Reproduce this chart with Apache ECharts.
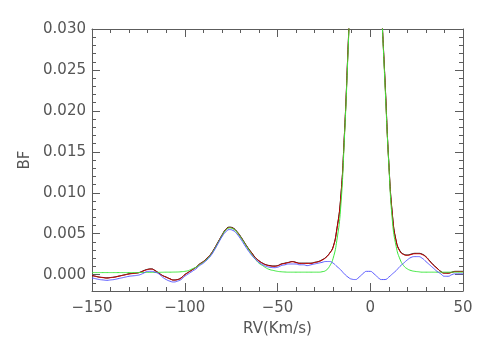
<!DOCTYPE html>
<html>
<head>
<meta charset="utf-8">
<script src="https://cdn.jsdelivr.net/npm/echarts@6.0.0/dist/echarts.min.js"></script>
<style>
  html, body { margin: 0; padding: 0; background: #fff; }
  #chart { width: 491px; height: 350px; }
</style>
</head>
<body>
<div id="chart"></div>
<script>
// radial velocity grid, km/s
const rv = [
  -150, -148, -146, -144, -142, -140, -138, -136, -134, -132,
  -130, -128, -126, -124, -122, -120, -118, -116, -114, -112,
  -110, -108, -106, -104, -102, -100, -98, -96, -94, -92,
  -90, -88, -86, -84, -82, -80, -78, -76, -74, -72,
  -70, -68, -66, -64, -62, -60, -58, -56, -54, -52,
  -50, -48, -46, -44, -42, -40, -38, -36, -34, -32,
  -30, -28, -26, -24, -22, -20, -18, -16, -14, -12,
  -10, -8, -6, -4, -2, 0, 2, 4, 6, 8,
  10, 12, 14, 16, 18, 20, 22, 24, 26, 28,
  30, 32, 34, 36, 38, 40, 42, 44, 46, 48,
  50
];

// broadening function (black)
const bfBlack = [
  -0.0001, -0.0002, -0.0003, -0.00035, -0.0004, -0.00035, -0.0003, -0.0002, -0.0001, 0,
  0.0001, 0.00015, 0.0002, 0.0003, 0.0005, 0.00065, 0.0007, 0.0005, 0.0002, -0.0001,
  -0.0003, -0.0005, -0.00065, -0.0006, -0.0004, 0, 0.0003, 0.0006, 0.0009, 0.0013,
  0.0016, 0.0020, 0.0025, 0.0032, 0.0040, 0.0048, 0.0055, 0.0058, 0.0057, 0.0053,
  0.0047, 0.0040, 0.0033, 0.0027, 0.0021, 0.0017, 0.0014, 0.0012, 0.0011, 0.00105,
  0.0011, 0.0013, 0.0014, 0.0015, 0.0016, 0.0015, 0.0014, 0.0014, 0.0014, 0.0014,
  0.0015, 0.0016, 0.0018, 0.0021, 0.0026, 0.0034, 0.0056, 0.0092, 0.0168, 0.0275,
  0.039, 0.052, 0.063, 0.069, 0.070, 0.066, 0.057, 0.044, 0.033, 0.0235,
  0.0137, 0.0072, 0.0041, 0.0029, 0.0025, 0.0024, 0.0025, 0.0026, 0.0026, 0.0025,
  0.0022, 0.0017, 0.0012, 0.0008, 0.0004, 0.0002, 0.0002, 0.0003, 0.0004, 0.0004,
  0.0004
];

// fit (red)
const bfRed = [
  -0.00012, -0.00022, -0.00032, -0.00037, -0.00042, -0.00037, -0.00032, -0.00022, -0.00012, -0.00002,
  0.00008, 0.00013, 0.00018, 0.00028, 0.00047, 0.00062, 0.00067, 0.00048, 0.00018, -0.00012,
  -0.00032, -0.00052, -0.00067, -0.00062, -0.00042, -0.00002, 0.00028, 0.00058, 0.00088, 0.00127,
  0.00157, 0.00197, 0.00247, 0.00317, 0.00397, 0.00475, 0.00545, 0.00575, 0.00565, 0.00525,
  0.00465, 0.00395, 0.00325, 0.00265, 0.00207, 0.00167, 0.00137, 0.00117, 0.00107, 0.00102,
  0.00107, 0.00127, 0.00137, 0.00147, 0.00157, 0.00147, 0.00137, 0.00137, 0.00137, 0.00137,
  0.00147, 0.00157, 0.00177, 0.00207, 0.00257, 0.00335, 0.0055, 0.0091, 0.0167, 0.0274,
  0.039, 0.052, 0.063, 0.069, 0.070, 0.066, 0.057, 0.044, 0.033, 0.0234,
  0.0136, 0.0071, 0.0040, 0.00285, 0.00245, 0.00235, 0.00245, 0.00255, 0.00255, 0.00245,
  0.00215, 0.00165, 0.00117, 0.00077, 0.00037, 0.00017, 0.00017, 0.00027, 0.00037, 0.00037,
  0.00037
];

// primary component (green)
const bfGreen = [
  0.00025, 0.00025, 0.00025, 0.00025, 0.00025, 0.00025, 0.00025, 0.00025, 0.00025, 0.00025,
  0.00025, 0.00025, 0.00025, 0.00026, 0.00026, 0.00027, 0.00027, 0.00028, 0.00028, 0.00029,
  0.0003, 0.0003, 0.00031, 0.00032, 0.00035, 0.0004, 0.0005, 0.0007, 0.0009, 0.0012,
  0.0015, 0.0019, 0.0024, 0.0031, 0.0039, 0.0047, 0.0054, 0.0057, 0.0056, 0.0052,
  0.0046, 0.0039, 0.0032, 0.0025, 0.0019, 0.0014, 0.0011, 0.0008, 0.0006, 0.0005,
  0.0004, 0.00035, 0.00032, 0.0003, 0.0003, 0.0003, 0.0003, 0.0003, 0.0003, 0.0003,
  0.0003, 0.0003, 0.00035, 0.0005, 0.001, 0.002, 0.0042, 0.0080, 0.0163, 0.027,
  0.039, 0.052, 0.063, 0.069, 0.070, 0.066, 0.057, 0.044, 0.033, 0.023,
  0.0135, 0.0064, 0.0034, 0.0019, 0.0011, 0.0007, 0.0005, 0.0004, 0.00035, 0.0003,
  0.0003, 0.0003, 0.0003, 0.0003, 0.0003, 0.0003, 0.0003, 0.0003, 0.0003, 0.0003,
  0.0003
];

// residual / secondary (blue)
const bfBlue = [
  -0.0004, -0.0005, -0.0006, -0.00065, -0.0007, -0.00065, -0.0006, -0.0005, -0.0004, -0.0003,
  -0.0002, -0.00015, -0.0001, 0, 0.0002, 0.0004, 0.0004, 0.0003, 0.0001, -0.0003,
  -0.0006, -0.0008, -0.0009, -0.0008, -0.0006, -0.0002, 0.0001, 0.0004, 0.0007, 0.0011,
  0.0014, 0.0018, 0.0023, 0.0030, 0.0038, 0.0046, 0.0052, 0.0055, 0.0054, 0.0050,
  0.0044, 0.0037, 0.0030, 0.0024, 0.0019, 0.0015, 0.0012, 0.0010, 0.0009, 0.00085,
  0.0009, 0.0011, 0.0012, 0.0013, 0.0013, 0.0013, 0.0012, 0.0012, 0.0011, 0.0012,
  0.0013, 0.0014, 0.0015, 0.0016, 0.0016, 0.0014, 0.0010, 0.0006, 0.0001, -0.0003,
  -0.00055, -0.0006, -0.0003, 0.0001, 0.0004, 0.0004, 0.0001, -0.0003, -0.0006, -0.0006,
  -0.0003, 0.0001, 0.0005, 0.0010, 0.0014, 0.0018, 0.0021, 0.0022, 0.0022, 0.0020,
  0.0016, 0.0012, 0.0008, 0.0004, 0.0001, -0.0002, -0.0002, 0, 0.0001, 0.0001,
  0.0001
];

const yMajor = [0, 0.005, 0.010, 0.015, 0.020, 0.025, 0.030];
const yMinor = [-0.002, -0.001, 0.001, 0.002, 0.003, 0.004, 0.006, 0.007, 0.008, 0.009,
  0.011, 0.012, 0.013, 0.014, 0.016, 0.017, 0.018, 0.019, 0.021, 0.022, 0.023, 0.024,
  0.026, 0.027, 0.028, 0.029];

const frameColor = '#5c5c5c';
const textColor = '#555555';
const font = 'DejaVu Sans';

const chart = echarts.init(document.getElementById('chart'));

const pairs = (ys) => rv.map((x, i) => [x, ys[i]]);

const xAxisBase = (pos) => ({
  type: 'value',
  position: pos,
  min: -150,
  max: 50,
  interval: 50,
  axisLine: { show: true, onZero: false, lineStyle: { color: frameColor, width: 1 } },
  axisTick: { show: true, inside: true, length: 8, lineStyle: { color: frameColor } },
  minorTick: { show: true, splitNumber: 5, length: 4, lineStyle: { color: frameColor } },
  splitLine: { show: false },
  minorSplitLine: { show: false }
});

const yAxisBase = (pos, ticks, len, line) => ({
  type: 'value',
  position: pos,
  min: -0.002,
  max: 0.030,
  axisLine: { show: line, onZero: false, lineStyle: { color: frameColor, width: 1 } },
  axisTick: { show: true, inside: true, length: len, customValues: ticks, lineStyle: { color: frameColor } },
  axisLabel: { show: false },
  splitLine: { show: false }
});

const lineSeries = (name, ys, color) => ({
  name: name,
  type: 'line',
  data: pairs(ys),
  showSymbol: false,
  smooth: 0.5,
  clip: true,
  lineStyle: { color: color, width: 1 },
  itemStyle: { color: color }
});

const option = {
  animation: false,
  backgroundColor: '#ffffff',
  grid: { left: 92, right: 28, top: 29, bottom: 59 },
  xAxis: [
    Object.assign(xAxisBase('bottom'), {
      axisLabel: {
        margin: 10,
        color: textColor,
        fontFamily: font,
        fontSize: 15,
        formatter: (v) => String(v).replace('-', '\u2212')
      },
      name: 'RV(Km/s)',
      nameLocation: 'middle',
      nameGap: 31,
      nameTextStyle: { color: textColor, fontFamily: font, fontSize: 15 }
    }),
    Object.assign(xAxisBase('top'), { axisLabel: { show: false } })
  ],
  yAxis: [
    Object.assign(yAxisBase('left', yMajor, 8, true), {
      axisLabel: {
        show: true,
        customValues: yMajor,
        margin: 6,
        color: textColor,
        fontFamily: font,
        fontSize: 15,
        formatter: (v) => v.toFixed(3)
      },
      name: 'BF',
      nameLocation: 'middle',
      nameGap: 57,
      nameRotate: 90,
      nameTextStyle: { color: textColor, fontFamily: font, fontSize: 15 }
    }),
    yAxisBase('left', yMinor, 4, false),
    yAxisBase('right', yMajor, 8, true),
    yAxisBase('right', yMinor, 4, false)
  ],
  series: [
    lineSeries('BF', bfBlack, '#000000'),
    lineSeries('fit', bfRed, '#d40000'),
    lineSeries('primary', bfGreen, '#3ee63e'),
    lineSeries('residual', bfBlue, '#5a5aff')
  ]
};

chart.setOption(option);
</script>
</body>
</html>
